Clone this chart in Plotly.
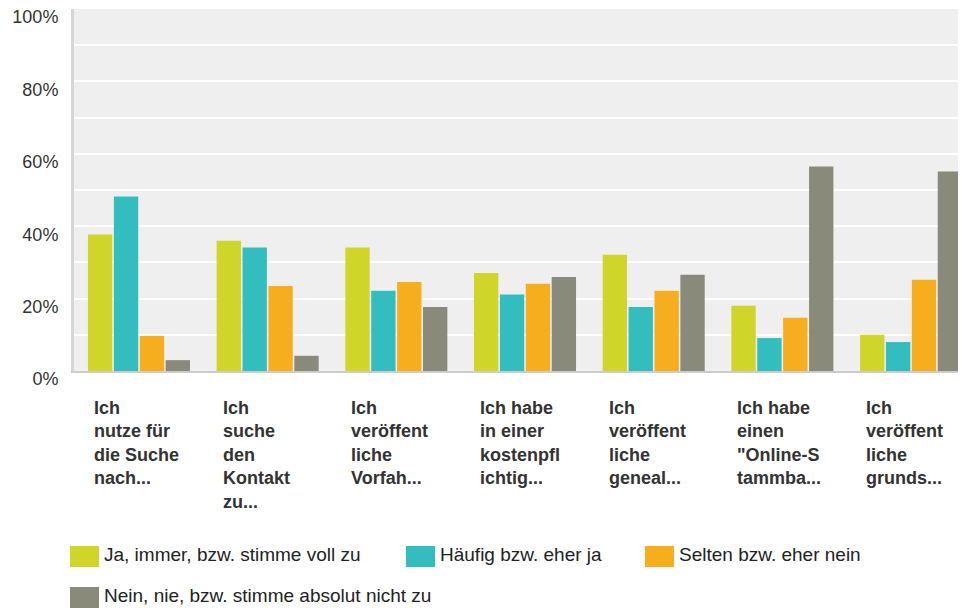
import plotly.graph_objects as go

# ---- data ----
category_lines = [
    ["Ich", "nutze für", "die Suche", "nach..."],
    ["Ich", "suche", "den", "Kontakt", "zu..."],
    ["Ich", "veröffent", "liche", "Vorfah..."],
    ["Ich habe", "in einer", "kostenpfl", "ichtig..."],
    ["Ich", "veröffent", "liche", "geneal..."],
    ["Ich habe", "einen", "\"Online-S", "tammba..."],
    ["Ich", "veröffent", "liche", "grunds..."],
]
series_names = [
    "Ja, immer, bzw. stimme voll zu",
    "Häufig bzw. eher ja",
    "Selten bzw. eher nein",
    "Nein, nie, bzw. stimme absolut nicht zu",
]
ja_immer = [37.7, 36.0, 34.1, 27.1, 32.1, 18.0, 10.0]
haeufig = [48.2, 34.1, 22.2, 21.1, 17.7, 9.1, 8.0]
selten = [9.7, 23.5, 24.6, 24.1, 22.2, 14.7, 25.2]
nein_nie = [3.0, 4.2, 17.7, 26.0, 26.6, 56.5, 55.1]
y_tick_values = [0, 20, 40, 60, 80, 100]
y_tick_labels = ["0%", "20%", "40%", "60%", "80%", "100%"]

series_values = [ja_immer, haeufig, selten, nein_nie]
colors = ["#D0D52A", "#33BDBF", "#F6AE1F", "#8A8A7A"]

categories = ["c%d" % i for i in range(len(category_lines))]
labels = ["<br>".join(lines) for lines in category_lines]

# page body has an 8px default margin -> figure drawn offset by 8px
OFF = 8
W, H = 966 - OFF, 608 - OFF
ML, MR, MT, MB = 74 - OFF, 0, 9 - OFF, 237
PW = W - ML - MR
PH = H - MT - MB


def px_x(px):
    # px given in page pixels
    return (px - OFF - ML) / PW


def px_y(py):
    return (H - MB - (py - OFF)) / PH


fig = go.Figure()
for name, vals, col in zip(series_names, series_values, colors):
    fig.add_trace(go.Bar(
        x=categories, y=vals, name=name, marker=dict(color=col, line=dict(width=0)),
        showlegend=False,
    ))

FONT = "Liberation Sans, Arial, sans-serif"

annotations = []
for cat, lab in zip(categories, labels):
    annotations.append(dict(
        x=cat, xref="x", xshift=-47, y=px_y(396), yref="paper",
        xanchor="left", yanchor="top",
        align="left", text=lab, showarrow=False,
        font=dict(family=FONT, size=18, color="#333333", weight="bold"),
    ))

# custom legend (large swatches)
legend_pos = [(70, 556.5), (406, 556.5), (645, 556.5), (70, 597.5)]
shapes = []
for (lx, ly), name, col in zip(legend_pos, series_names, colors):
    shapes.append(dict(
        type="rect", xref="paper", yref="paper",
        x0=px_x(lx), x1=px_x(lx + 29), y0=px_y(ly + 10.5), y1=px_y(ly - 10.5),
        fillcolor=col, line=dict(width=0), layer="above",
    ))
    annotations.append(dict(
        x=px_x(lx + 32), xref="paper", y=px_y(ly - 2), yref="paper",
        xanchor="left", yanchor="middle", text=name, showarrow=False,
        font=dict(family=FONT, size=19, color="#222222"),
    ))

fig.update_layout(
    width=W, height=H,
    margin=dict(l=ML, r=MR, t=MT, b=MB, pad=0),
    paper_bgcolor="white", plot_bgcolor="#EFEFEF",
    barmode="group", bargap=0.195, bargroupgap=0.06,
    font=dict(family=FONT, size=18, color="#333333"),
    annotations=annotations, shapes=shapes,
    xaxis=dict(
        range=[-0.505, 6.427], showticklabels=False, showgrid=False, zeroline=False,
        showline=True, linecolor="#CCCCCC", linewidth=2, ticks="",
    ),
    yaxis=dict(
        range=[0, 100], tickvals=y_tick_values, ticktext=y_tick_labels,
        showgrid=True, gridcolor="white", gridwidth=2,
        minor=dict(dtick=10, showgrid=True, gridcolor="white", gridwidth=2, ticks=""),
        zeroline=False, showline=True, linecolor="#D6D6D6", linewidth=3, ticks="",
        tickfont=dict(family=FONT, size=18, color="#333333"),
        ticklabelshift=8, ticklabelstandoff=9, ticklabeloverflow="allow",
    ),
)

fig.write_html("out.html")
